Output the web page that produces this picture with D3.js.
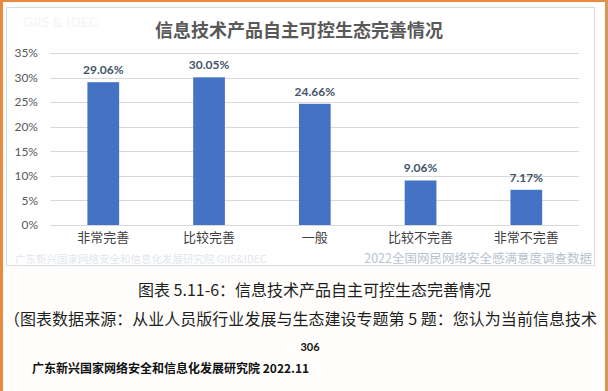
<!DOCTYPE html>
<html>
<head>
<meta charset="utf-8">
<script src="https://cdn.jsdelivr.net/npm/d3@7"></script>
<style>
  body { margin: 0; background: #fffefc; }
  svg { display: block; }
</style>
</head>
<body>
<svg id="chart" width="608" height="391"></svg>
<script>
// chart data
const categories = ['非常完善', '比较完善', '一般', '比较不完善', '非常不完善'];
const values = [0.2906, 0.3005, 0.2466, 0.0906, 0.0717];
const yTicks = [0, 0.05, 0.10, 0.15, 0.20, 0.25, 0.30, 0.35];

const chartTitle = '信息技术产品自主可控生态完善情况';
const captionText = '图表 5.11-6：信息技术产品自主可控生态完善情况';
const sourceText = '（图表数据来源：从业人员版行业发展与生态建设专题第 5 题：您认为当前信息技术';
const pageNumber = '306';
const footerText = '广东新兴国家网络安全和信息化发展研究院 2022.11';

const latin = 'Lato, "Noto Sans CJK SC", sans-serif';
const cjk = '"Noto Sans CJK SC", "Noto Sans", sans-serif';

const svg = d3.select('#chart');

// page background and orange edge of the scan
svg.append('rect').attr('width', 608).attr('height', 391).attr('fill', '#fffefc');
svg.append('rect').attr('x', 0).attr('y', 0).attr('width', 3).attr('height', 391).attr('fill', '#e98b3f');
svg.append('rect').attr('x', 0).attr('y', 0).attr('width', 608).attr('height', 2).attr('fill', '#e98b3f');
svg.append('rect').attr('x', 605).attr('y', 0).attr('width', 3).attr('height', 391).attr('fill', '#d9965a');

// chart frame
svg.append('rect')
    .attr('x', 6.5).attr('y', 7.5)
    .attr('width', 588).attr('height', 258)
    .attr('fill', '#ffffff')
    .attr('stroke', '#dcdcdc');

// faint watermark top-left
svg.append('text')
    .text('GIIS & IDEC')
    .attr('x', 23).attr('y', 27)
    .attr('font-family', latin)
    .attr('font-weight', 'bold')
    .attr('font-size', '14px')
    .attr('fill', '#f6f6f6');

svg.append('text')
    .text(chartTitle)
    .attr('x', 299).attr('y', 36.5)
    .attr('text-anchor', 'middle')
    .attr('font-family', cjk)
    .attr('font-weight', 'bold')
    .attr('font-size', '18px')
    .attr('fill', '#595959');

const x = d3.scaleBand()
    .domain(categories)
    .range([50.4, 579.2]);

const y = d3.scaleLinear()
    .domain([0, 0.35])
    .range([225, 53]);

// gridlines
svg.selectAll('.grid')
    .data(yTicks)
    .enter()
    .append('line')
    .attr('class', 'grid')
    .attr('x1', 50).attr('x2', 579)
    .attr('y1', d => Math.round(y(d)) + 0.5)
    .attr('y2', d => Math.round(y(d)) + 0.5)
    .attr('stroke', '#d9d9d9')
    .attr('stroke-width', 1);

// y axis labels
const yAxis = d3.axisLeft(y)
    .tickValues(yTicks)
    .tickFormat(d3.format('.0%'))
    .tickSize(0)
    .tickPadding(0);

svg.append('g')
    .attr('transform', 'translate(38,0)')
    .call(yAxis)
    .call(g => g.select('.domain').remove())
    .selectAll('text')
    .attr('font-family', latin)
    .attr('font-size', '12px')
    .attr('fill', '#595959');

// bars
const barW = x.bandwidth() * 0.3;
svg.selectAll('.bar')
    .data(values)
    .enter()
    .append('rect')
    .attr('class', 'bar')
    .attr('x', (d, i) => x(categories[i]) + (x.bandwidth() - barW) / 2)
    .attr('y', d => y(d))
    .attr('width', barW)
    .attr('height', d => y(0) - y(d))
    .attr('fill', '#4472c4');

// value labels
svg.selectAll('.value-label')
    .data(values)
    .enter()
    .append('text')
    .attr('class', 'value-label')
    .text(d => d3.format('.2%')(d))
    .attr('x', (d, i) => x(categories[i]) + x.bandwidth() / 2)
    .attr('y', d => y(d) - 8)
    .attr('text-anchor', 'middle')
    .attr('font-family', latin)
    .attr('font-weight', 'bold')
    .attr('font-size', '12px')
    .attr('fill', '#44546a');

// category labels
const xAxis = d3.axisBottom(x).tickSize(0).tickPadding(0);
svg.append('g')
    .attr('transform', 'translate(0,233)')
    .call(xAxis)
    .call(g => g.select('.domain').remove())
    .selectAll('text')
    .attr('font-family', cjk)
    .attr('font-size', '13px')
    .attr('fill', '#404040');

// bottom watermarks inside the frame
svg.append('text')
    .text('广东新兴国家网络安全和信息化发展研究院   GIIS&IDEC')
    .attr('x', 15).attr('y', 262.5)
    .attr('font-family', cjk)
    .attr('font-size', '10.5px')
    .attr('fill', '#e2e6ed');

svg.append('text')
    .text('2022全国网民网络安全感满意度调查数据')
    .attr('x', 592).attr('y', 263)
    .attr('text-anchor', 'end')
    .attr('font-family', cjk)
    .attr('font-size', '12.5px')
    .attr('fill', '#b9c3d0');

// document text below the chart
svg.append('text')
    .text(captionText)
    .attr('x', 138).attr('y', 295.5)
    .attr('font-family', cjk)
    .attr('font-size', '16px')
    .attr('fill', '#1e1e1e');

svg.append('text')
    .text(sourceText)
    .attr('x', 4).attr('y', 324.5)
    .attr('textLength', 593)
    .attr('lengthAdjust', 'spacing')
    .attr('font-family', cjk)
    .attr('font-size', '16px')
    .attr('fill', '#1e1e1e');

svg.append('text')
    .text(pageNumber)
    .attr('x', 310).attr('y', 351)
    .attr('text-anchor', 'middle')
    .attr('font-family', latin)
    .attr('font-weight', 'bold')
    .attr('font-size', '11px')
    .attr('fill', '#111');

svg.append('text')
    .text(footerText)
    .attr('x', 32).attr('y', 373)
    .attr('font-family', cjk)
    .attr('font-weight', 'bold')
    .attr('font-size', '12px')
    .attr('fill', '#111');
</script>
</body>
</html>
